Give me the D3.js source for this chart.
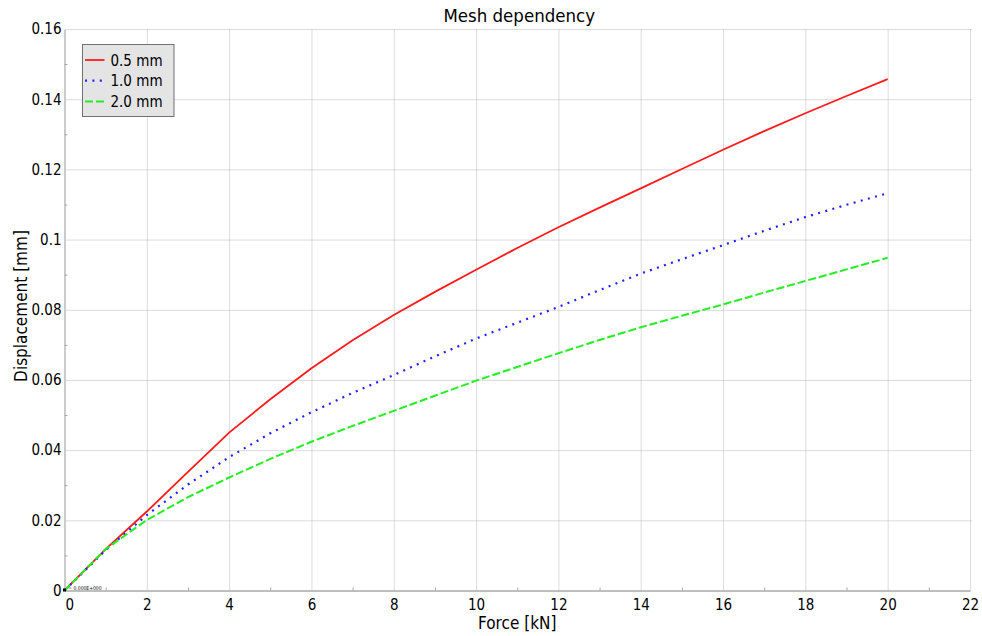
<!DOCTYPE html>
<html>
<head>
<meta charset="utf-8">
<script src="https://cdn.jsdelivr.net/npm/d3@7"></script>
<style>
  body { margin: 0; background: #fff; }
  svg text { font-family: "DejaVu Sans Condensed", "DejaVu Sans", sans-serif; fill: #000; }
</style>
</head>
<body>
<svg id="chart" width="982" height="636"></svg>
<script>
// force in kN
const force = [0, 1, 2, 3, 4, 5, 6, 7, 8, 9, 10, 11, 12, 13, 14, 15, 16, 17, 18, 19, 20];
// displacement in mm for each mesh size
const disp05 = [0, 0.0118, 0.0225, 0.0338, 0.0450, 0.0545, 0.0633, 0.0713, 0.0785, 0.0851, 0.0914,
                0.0976, 0.1035, 0.1091, 0.1146, 0.1201, 0.1256, 0.1309, 0.1360, 0.1409, 0.1457];
const disp10 = [0, 0.0115, 0.0215, 0.0302, 0.0380, 0.0448, 0.0508, 0.0563, 0.0614, 0.0667, 0.0718,
                0.0763, 0.0808, 0.0856, 0.0903, 0.0944, 0.0984, 0.1025, 0.1064, 0.1099, 0.1132];
const disp20 = [0, 0.0118, 0.0201, 0.0266, 0.0322, 0.0375, 0.0424, 0.0469, 0.0512, 0.0555, 0.0598,
                0.0637, 0.0676, 0.0714, 0.0750, 0.0783, 0.0815, 0.0849, 0.0882, 0.0915, 0.0948];
const seriesNames = ["0.5 mm", "1.0 mm", "2.0 mm"];

const xTicks = [0, 2, 4, 6, 8, 10, 12, 14, 16, 18, 20, 22];
const xTickLabels = ["0", "2", "4", "6", "8", "10", "12", "14", "16", "18", "20", "22"];
const yTicks = [0, 0.02, 0.04, 0.06, 0.08, 0.1, 0.12, 0.14, 0.16];
const yTickLabels = ["0", "0.02", "0.04", "0.06", "0.08", "0.1", "0.12", "0.14", "0.16"];

const svg = d3.select("#chart");
const plotL = 64.5, plotR = 970, plotT = 29, plotB = 590.5;

const x = d3.scaleLinear().domain([0, 22]).range([plotL, plotR]);
const y = d3.scaleLinear().domain([0, 0.16]).range([plotB, plotT]);

// grid
const grid = svg.append("g");
grid.append("g")
    .attr("transform", `translate(0,${plotB})`)
    .call(d3.axisBottom(x).tickValues(xTicks.slice(1)).tickSize(-(plotB - plotT)).tickFormat(""))
    .call(g => g.select(".domain").remove());
grid.append("g")
    .attr("transform", `translate(${plotL},0)`)
    .call(d3.axisLeft(y).tickValues(yTicks.slice(1)).tickSize(-(plotR - plotL + 2)).tickFormat(""))
    .call(g => g.select(".domain").remove())
    .call(g => g.selectAll("line").attr("x1", 2));
grid.selectAll("line")
    .attr("stroke", "#b8b8b8")
    .attr("stroke-dasharray", "1,1");

// minor ticks
const xMinor = xTicks.slice(0, -1).map(v => v + 1);
const yMinor = yTicks.slice(0, -1).map(v => v + 0.01);
svg.append("g")
    .attr("transform", `translate(0,${plotB})`)
    .call(d3.axisBottom(x).tickValues(xMinor).tickSize(-3).tickFormat(""))
    .call(g => g.select(".domain").remove())
    .selectAll("line").attr("stroke", "#a8a8a8");
svg.append("g")
    .attr("transform", `translate(${plotL},0)`)
    .call(d3.axisLeft(y).tickValues(yMinor).tickSize(-3).tickFormat(""))
    .call(g => g.select(".domain").remove())
    .selectAll("line").attr("stroke", "#a8a8a8");

// axes
const xAxis = svg.append("g")
    .attr("transform", `translate(0,${plotB})`)
    .call(d3.axisBottom(x).tickValues(xTicks).tickSize(0).tickPadding(9)
        .tickFormat((d, i) => xTickLabels[i]));
xAxis.select(".domain").attr("stroke", "#a8a8a8").attr("stroke-width", 1.5);
xAxis.selectAll("text").attr("font-size", 15).attr("fill", "#000");
xAxis.selectAll(".tick").filter(d => d === 0).select("text")
    .attr("text-anchor", "start").attr("x", 0.5);

const yAxis = svg.append("g")
    .attr("transform", `translate(${plotL},0)`)
    .call(d3.axisLeft(y).tickValues(yTicks).tickSize(0).tickPadding(3)
        .tickFormat((d, i) => yTickLabels[i]));
yAxis.select(".domain").attr("stroke", "#a8a8a8").attr("stroke-width", 1.2);
yAxis.selectAll("text").attr("font-size", 15).attr("fill", "#000");
svg.selectAll("g").attr("font-family", null).attr("font-size", null);

// series
const line = (vals) => d3.line()
    .x((d, i) => x(force[i]))
    .y(d => y(d))(vals);

const styles = [
  { color: "#ff1a1a", dash: null, width: 1.8 },
  { color: "#2222ff", dash: "2,5.4", width: 2.2 },
  { color: "#22ee22", dash: "8,3", width: 2 }
];
[disp05, disp10, disp20].forEach((vals, k) => {
  svg.append("path")
      .attr("d", line(vals))
      .attr("fill", "none")
      .attr("stroke", styles[k].color)
      .attr("stroke-width", styles[k].width)
      .attr("stroke-dasharray", styles[k].dash);
});

// origin marker
svg.append("rect")
    .attr("x", x(0) - 1.5).attr("y", y(0) - 2)
    .attr("width", 3).attr("height", 3)
    .attr("fill", "#000");
svg.append("line")
    .attr("x1", x(0) + 4).attr("x2", x(0) + 7)
    .attr("y1", y(0) - 2.5).attr("y2", y(0) - 2.5)
    .attr("stroke", "#444").attr("stroke-width", 0.6);
svg.append("text")
    .attr("x", x(0) + 9).attr("y", y(0) - 1)
    .attr("font-size", 5)
    .attr("fill", "#333")
    .text("0.000E+000");

// title and labels
svg.append("text")
    .attr("x", (plotL + plotR) / 2 + 2).attr("y", 22)
    .attr("text-anchor", "middle")
    .attr("font-size", 18.5)
    .text("Mesh dependency");
svg.append("text")
    .attr("x", (plotL + plotR) / 2).attr("y", 629)
    .attr("text-anchor", "middle")
    .attr("font-size", 17)
    .text("Force [kN]");
svg.append("text")
    .attr("transform", `translate(27,${(229 + 383) / 2}) rotate(-90)`)
    .attr("text-anchor", "middle")
    .attr("font-size", 17)
    .text("Displacement [mm]");

// legend
const legend = svg.append("g").attr("transform", "translate(82.5,44.5)");
legend.append("rect")
    .attr("width", 91.5).attr("height", 72)
    .attr("fill", "#e4e4e4")
    .attr("stroke", "#707070");
seriesNames.forEach((name, k) => {
  const cy = 15.5 + k * 20.7;
  legend.append("line")
      .attr("x1", 2.5).attr("x2", 22)
      .attr("y1", cy).attr("y2", cy)
      .attr("stroke", styles[k].color)
      .attr("stroke-width", styles[k].width)
      .attr("stroke-dasharray", styles[k].dash);
  legend.append("text")
      .attr("x", 28).attr("y", cy + 5.5)
      .attr("font-size", 15)
      .text(name);
});
</script>
</body>
</html>
